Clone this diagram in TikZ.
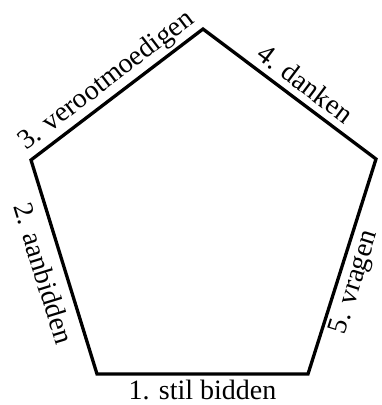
\documentclass[tikz,border=0pt]{standalone}
\usepackage{fontspec}
\setmainfont{Liberation Serif}
\begin{document}
\begin{tikzpicture}[x=1pt,y=-1pt,
  edge/.style={line width=3.3pt,line join=miter},
  lab/.style={font=\fontsize{28}{30}\selectfont,inner sep=5pt,sloped}]
\useasboundingbox (0,0) rectangle (382,405);
\coordinate (T) at (203,29);
\coordinate (L) at (31,160);
\coordinate (R) at (376,159);
\coordinate (BL) at (97,374);
\coordinate (BR) at (308,374);
\draw[edge] (BL) -- (BR) -- (R) -- (T) -- (L) -- cycle;
\path (BL) -- (BR) node[lab,midway,below,inner sep=1pt,yshift=-5pt] (n1) {1. stil bidden};
\path (L) -- (BL) node[lab,pos=0.5,below,inner sep=11pt] (n2) {2. aanbidden};
\path (L) -- (T) node[lab,midway,above,inner sep=4pt] (n3) {3. verootmoedigen};
\path (T) -- (R) node[lab,pos=0.53,above,inner sep=8pt] (n4) {4. danken};
\path (BR) -- (R) node[lab,pos=0.45,below,inner sep=5pt] (n5) {5. vragen};
\end{tikzpicture}
\end{document}
